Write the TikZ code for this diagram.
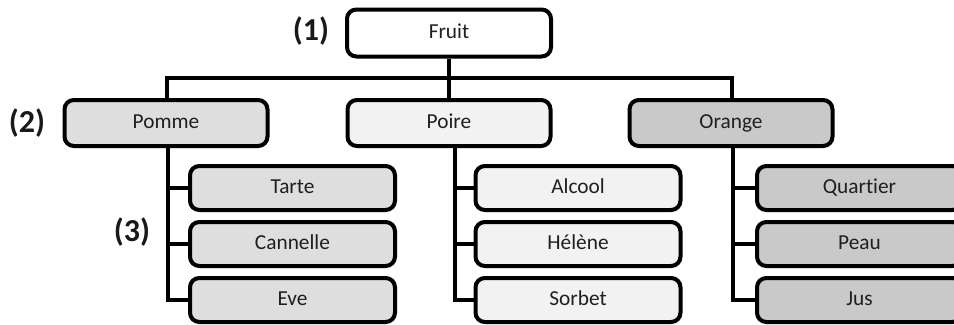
\documentclass[tikz,border=0pt]{standalone}
\usepackage{fontspec}
\setmainfont{Carlito}[Ligatures=NoCommon]
\begin{document}
\begin{tikzpicture}[x=0.75pt,y=-0.75pt,
  box/.style={draw=black, line width=3pt, rounded corners=7pt,
    inner sep=0pt, text height=11pt, text depth=3pt,
    font=\fontsize{16}{19}\selectfont, text=black!88},
  top/.style={box, fill=white, minimum width=153pt, minimum height=35.25pt},
  mid/.style={box, minimum width=152.25pt, minimum height=34.5pt},
  leaf/.style={box, minimum width=153.75pt, minimum height=33pt},
  link/.style={draw=black, line width=3pt},
  level/.style={font=\bfseries\fontsize{24}{27}\selectfont, inner sep=0pt, text=black!90}]
\definecolor{pommegray}{RGB}{222,222,222}
\definecolor{poiregray}{RGB}{242,242,242}
\definecolor{orangegray}{RGB}{201,201,201}
\useasboundingbox (0,0) rectangle (954,325);
\clip (0,0) rectangle (954,325);

% root
\node[top] (fruit) at (449,33) {Fruit};

% second level
\node[mid, fill=pommegray]  (pomme)  at (166,123) {Pomme};
\node[mid, fill=poiregray]  (poire)  at (449,123) {Poire};
\node[mid, fill=orangegray] (orange) at (731,123) {Orange};

% leaves
\node[leaf, fill=pommegray] (tarte)    at (292.5,188) {Tarte};
\node[leaf, fill=pommegray] (cannelle) at (292.5,244) {Cannelle};
\node[leaf, fill=pommegray] (eve)      at (292.5,300) {Eve};

\node[leaf, fill=poiregray] (alcool) at (578,188) {Alcool};
\node[leaf, fill=poiregray] (helene) at (578,244) {Hélène};
\node[leaf, fill=poiregray] (sorbet) at (578,300) {Sorbet};

\node[leaf, fill=orangegray] (quartier) at (859.5,188) {Quartier};
\node[leaf, fill=orangegray] (peau)     at (859.5,244) {Peau};
\node[leaf, fill=orangegray] (jus)      at (859.5,300) {Jus};

% level labels
\node[level] (l1) at (311,31) {(1)};
\node[level] (l2) at (27,123) {(2)};
\node[level] (l3) at (132,232) {(3)};

% root to second level
\coordinate (hub) at (449,78);
\draw[link] (fruit.south) -- (poire.north);
\draw[link] ([xshift=0.75pt]pomme.north) |- (hub) -| ([xshift=0.75pt]orange.north);

% second level to leaves
\coordinate (pombus) at ([xshift=1.5pt]pomme.south);
\coordinate (poibus) at ([xshift=4.5pt]poire.south);
\coordinate (orabus) at ([xshift=1.5pt]orange.south);

\draw[link] (pombus) |- (eve.west);
\draw[link] (pombus |- tarte.west) -- (tarte.west);
\draw[link] (pombus |- cannelle.west) -- (cannelle.west);

\draw[link] (poibus) |- (sorbet.west);
\draw[link] (poibus |- alcool.west) -- (alcool.west);
\draw[link] (poibus |- helene.west) -- (helene.west);

\draw[link] (orabus) |- (jus.west);
\draw[link] (orabus |- quartier.west) -- (quartier.west);
\draw[link] (orabus |- peau.west) -- (peau.west);
\end{tikzpicture}
\end{document}
